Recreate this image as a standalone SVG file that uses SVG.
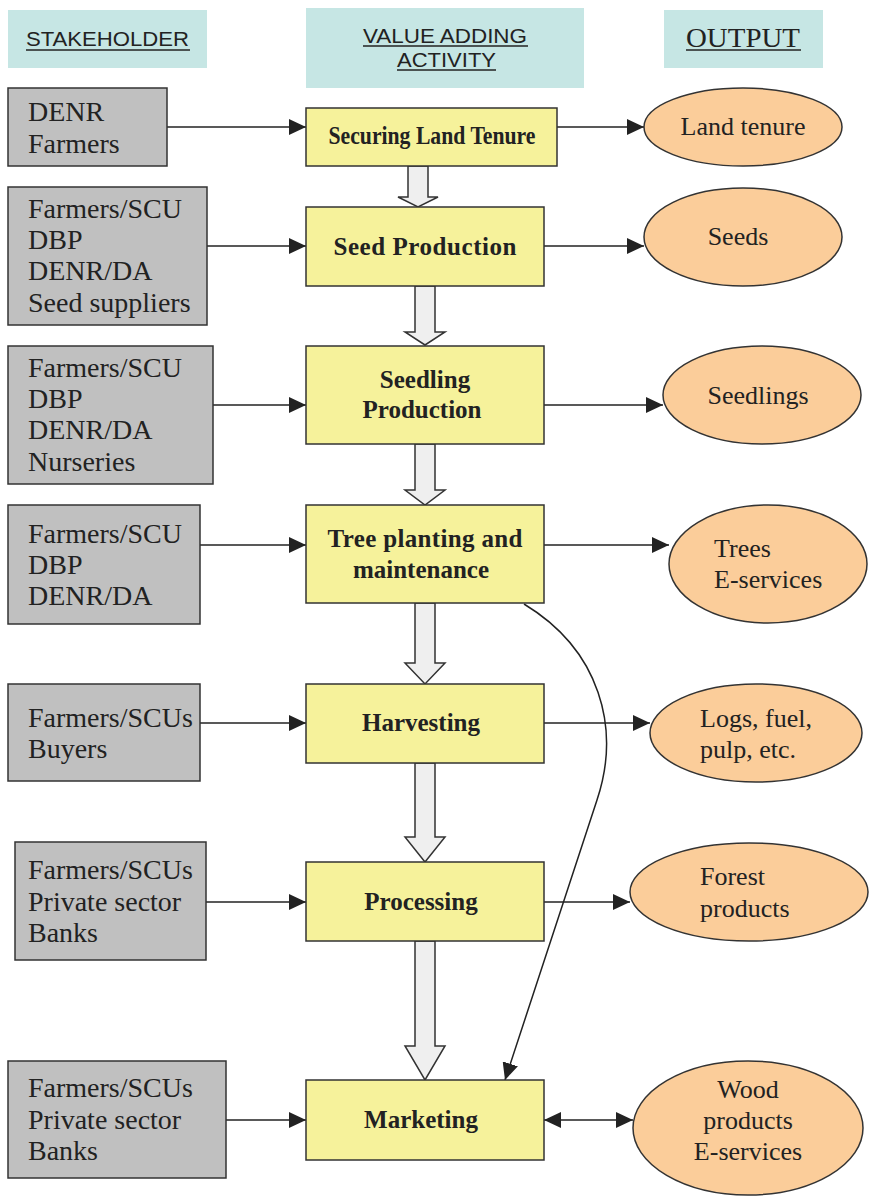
<svg xmlns="http://www.w3.org/2000/svg" width="869" height="1197" viewBox="0 0 869 1197">
<style>
.hdr{fill:#c6e6e4}
.hs{font-family:"Liberation Sans",Arial,sans-serif;fill:#222}
.st{fill:#c0c0c0;stroke:#333;stroke-width:1.5}
.act{fill:#f6f29b;stroke:#333;stroke-width:1.5}
.out{fill:#fbcd9a;stroke:#333;stroke-width:1.5}
.blk{fill:#efefef;stroke:#333;stroke-width:1.5}
.t{font-family:"Liberation Serif","Times New Roman",serif;font-size:26px;fill:#222}
.s{font-family:"Liberation Serif","Times New Roman",serif;font-size:28px;fill:#222}
.b{font-family:"Liberation Serif","Times New Roman",serif;font-weight:bold;font-size:25px;fill:#222;text-anchor:middle}
.c{stroke:#222;stroke-width:1.5;fill:none}
.ul{stroke:#222;stroke-width:1.5}
</style>
<defs>
<marker id="ah" markerUnits="userSpaceOnUse" markerWidth="17" markerHeight="16" refX="17" refY="8" orient="auto-start-reverse">
<path d="M0,0 L17,8 L0,16 z" fill="#222"/>
</marker>
</defs>

<g id="headers">
<rect class="hdr" x="8" y="10" width="199" height="58"/>
<text class="hs" x="26" y="46" font-size="21" textLength="163" lengthAdjust="spacingAndGlyphs">STAKEHOLDER</text>
<line class="ul" x1="26" y1="50" x2="190" y2="50"/>
<rect class="hdr" x="306" y="8" width="278" height="80"/>
<text class="hs" x="363" y="43" font-size="20" textLength="164" lengthAdjust="spacingAndGlyphs">VALUE ADDING</text>
<line class="ul" x1="363" y1="46" x2="528" y2="46"/>
<text class="hs" x="397" y="67" font-size="20" textLength="99" lengthAdjust="spacingAndGlyphs">ACTIVITY</text>
<line class="ul" x1="397" y1="70" x2="496" y2="70"/>
<rect class="hdr" x="664" y="10" width="159" height="58"/>
<text x="686" y="47" font-family="'Liberation Serif','Times New Roman',serif" font-size="28" fill="#222" textLength="114" lengthAdjust="spacingAndGlyphs">OUTPUT</text>
<line class="ul" x1="686" y1="50" x2="801" y2="50"/>
</g>

<g id="connectors">
<line class="c" x1="167" y1="127" x2="306" y2="127" marker-end="url(#ah)"/>
<line class="c" x1="207" y1="246" x2="306" y2="246" marker-end="url(#ah)"/>
<line class="c" x1="213" y1="405" x2="306" y2="405" marker-end="url(#ah)"/>
<line class="c" x1="200" y1="545" x2="306" y2="545" marker-end="url(#ah)"/>
<line class="c" x1="200" y1="723" x2="306" y2="723" marker-end="url(#ah)"/>
<line class="c" x1="206" y1="902" x2="306" y2="902" marker-end="url(#ah)"/>
<line class="c" x1="226" y1="1120" x2="306" y2="1120" marker-end="url(#ah)"/>
<line class="c" x1="557" y1="127" x2="644" y2="127" marker-end="url(#ah)"/>
<line class="c" x1="544" y1="246" x2="644" y2="246" marker-end="url(#ah)"/>
<line class="c" x1="544" y1="405" x2="663" y2="405" marker-end="url(#ah)"/>
<line class="c" x1="544" y1="545" x2="669" y2="545" marker-end="url(#ah)"/>
<line class="c" x1="544" y1="723" x2="650" y2="723" marker-end="url(#ah)"/>
<line class="c" x1="544" y1="902" x2="630" y2="902" marker-end="url(#ah)"/>
<line class="c" x1="544" y1="1120" x2="633" y2="1120" marker-start="url(#ah)" marker-end="url(#ah)"/>
<path class="c" d="M524,604 C600,650 621,728 597,800 L505,1080" marker-end="url(#ah)"/>
<polygon class="blk" points="408,166 428,166 428,197 438,197 418,207 398,197 408,197"/>
<polygon class="blk" points="415,286 435,286 435,332 445,332 425,345 405,332 415,332"/>
<polygon class="blk" points="415,444 435,444 435,490 445,490 425,505 405,490 415,490"/>
<polygon class="blk" points="415,603 435,603 435,663 445,663 425,684 405,663 415,663"/>
<polygon class="blk" points="415,763 435,763 435,837 445,837 425,862 405,837 415,837"/>
<polygon class="blk" points="415,941 435,941 435,1046 445,1046 425,1080 405,1046 415,1046"/>
</g>

<g id="stakeholder1"><rect class="st" x="8" y="88" width="159" height="78"/>
<text class="s" x="28" y="121">DENR</text><text class="s" x="28" y="153">Farmers</text></g>
<g id="stakeholder2"><rect class="st" x="8" y="187" width="199" height="138"/>
<text class="s" x="28" y="218">Farmers/SCU</text><text class="s" x="28" y="249">DBP</text><text class="s" x="28" y="280">DENR/DA</text><text class="s" x="28" y="312">Seed suppliers</text></g>
<g id="stakeholder3"><rect class="st" x="8" y="346" width="205" height="138"/>
<text class="s" x="28" y="377">Farmers/SCU</text><text class="s" x="28" y="408">DBP</text><text class="s" x="28" y="439">DENR/DA</text><text class="s" x="28" y="471">Nurseries</text></g>
<g id="stakeholder4"><rect class="st" x="8" y="505" width="192" height="119"/>
<text class="s" x="28" y="543">Farmers/SCU</text><text class="s" x="28" y="574">DBP</text><text class="s" x="28" y="605">DENR/DA</text></g>
<g id="stakeholder5"><rect class="st" x="8" y="684" width="192" height="97"/>
<text class="s" x="28" y="727">Farmers/SCUs</text><text class="s" x="28" y="758">Buyers</text></g>
<g id="stakeholder6"><rect class="st" x="15" y="842" width="191" height="118"/>
<text class="s" x="28" y="879">Farmers/SCUs</text><text class="s" x="28" y="911">Private sector</text><text class="s" x="28" y="942">Banks</text></g>
<g id="stakeholder7"><rect class="st" x="8" y="1061" width="218" height="117"/>
<text class="s" x="28" y="1097">Farmers/SCUs</text><text class="s" x="28" y="1129">Private sector</text><text class="s" x="28" y="1160">Banks</text></g>

<g id="act1"><rect class="act" x="306" y="108" width="251" height="58"/>
<text class="b" x="432" y="144" font-size="20" textLength="207" lengthAdjust="spacingAndGlyphs">Securing Land Tenure</text></g>
<g id="act2"><rect class="act" x="306" y="207" width="238" height="79"/>
<text class="b" x="425" y="255" textLength="183" lengthAdjust="spacing">Seed Production</text></g>
<g id="act3"><rect class="act" x="306" y="346" width="238" height="98"/>
<text class="b" x="425" y="388">Seedling</text><text class="b" x="422" y="418">Production</text></g>
<g id="act4"><rect class="act" x="306" y="505" width="238" height="98"/>
<text class="b" x="425" y="547" textLength="195" lengthAdjust="spacing">Tree planting and</text><text class="b" x="421" y="578">maintenance</text></g>
<g id="act5"><rect class="act" x="306" y="684" width="238" height="79"/>
<text class="b" x="421" y="731">Harvesting</text></g>
<g id="act6"><rect class="act" x="306" y="862" width="238" height="79"/>
<text class="b" x="421" y="910">Processing</text></g>
<g id="act7"><rect class="act" x="306" y="1080" width="238" height="80"/>
<text class="b" x="421" y="1128">Marketing</text></g>

<g id="out1"><ellipse class="out" cx="743" cy="127" rx="99" ry="39"/>
<text class="t" x="743" y="135" text-anchor="middle">Land tenure</text></g>
<g id="out2"><ellipse class="out" cx="743" cy="237" rx="99" ry="49"/>
<text class="t" x="738" y="245" text-anchor="middle">Seeds</text></g>
<g id="out3"><ellipse class="out" cx="762" cy="395" rx="99" ry="49"/>
<text class="t" x="758" y="404" text-anchor="middle">Seedlings</text></g>
<g id="out4"><ellipse class="out" cx="768" cy="564" rx="99" ry="59"/>
<text class="t" x="714" y="557">Trees</text><text class="t" x="714" y="588">E-services</text></g>
<g id="out5"><ellipse class="out" cx="756" cy="733" rx="106" ry="49"/>
<text class="t" x="700" y="727">Logs, fuel,</text><text class="t" x="700" y="758">pulp, etc.</text></g>
<g id="out6"><ellipse class="out" cx="749" cy="892" rx="119" ry="49"/>
<text class="t" x="700" y="885">Forest</text><text class="t" x="700" y="917">products</text></g>
<g id="out7"><ellipse class="out" cx="748" cy="1128" rx="115" ry="67"/>
<text class="t" x="748" y="1098" text-anchor="middle">Wood</text><text class="t" x="748" y="1129" text-anchor="middle">products</text><text class="t" x="748" y="1160" text-anchor="middle">E-services</text></g>
</svg>
